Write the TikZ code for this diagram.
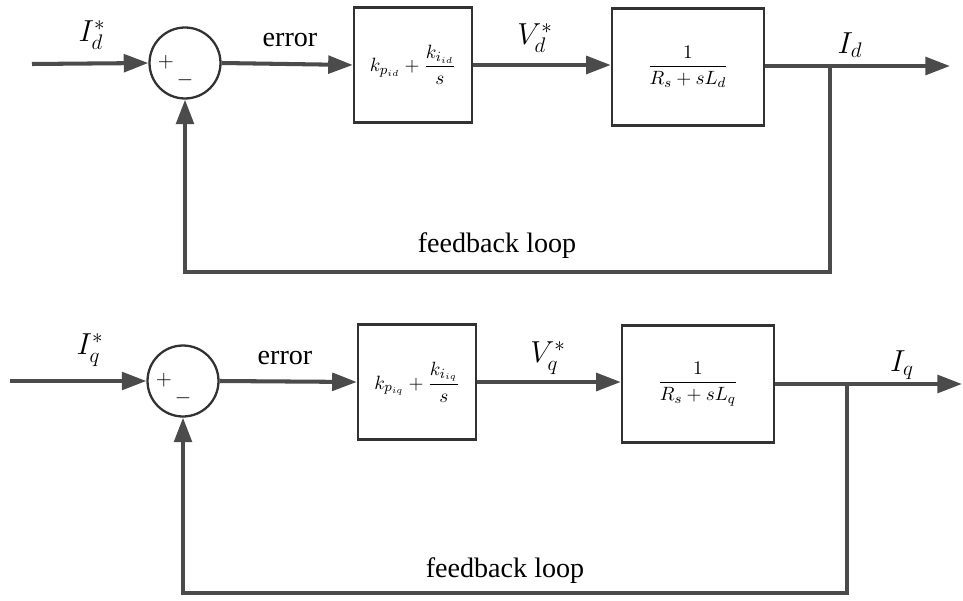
\documentclass[tikz,border=0pt]{standalone}
\usepackage{amsmath}
\usepackage{fontspec}
\setmainfont{Liberation Serif}
\newfontfamily\capfont{Liberation Serif}
\usetikzlibrary{arrows.meta,positioning}
\definecolor{cLine}{RGB}{75,75,75}
\definecolor{cEdge}{RGB}{50,50,50}
\tikzset{
  blockbox/.style={rectangle,draw=cEdge,line width=1.4pt,fill=white,
                   align=center,font=\fontsize{11}{13}\selectfont},
  pibox/.style={blockbox,minimum width=2.36cm,minimum height=2.3cm},
  plantbox/.style={blockbox,minimum width=3.04cm,minimum height=2.34cm},
  sumnode/.style={circle,draw=cEdge,line width=1.3pt,minimum size=1.42cm,inner sep=0pt},
  sig/.style={-{Triangle[length=14pt,width=10pt]},line width=2.3pt,color=cLine},
  lbl/.style={font=\fontsize{17}{20}\selectfont},
  txt/.style={font=\capfont\fontsize{16}{19}\selectfont},
  sgn/.style={font=\fontsize{12}{14}\selectfont}
}
\begin{document}
\begin{tikzpicture}[x=0.02cm,y=-0.02cm]
  \useasboundingbox (0,0) rectangle (963,601);

  % d-axis current loop
  \coordinate (ind) at (32,64);
  \node[sumnode] (sumd) at (185,63) {};
  \node[sgn] (plusd) at (166,62) {$+$};
  \node[sgn] (minusd) at (185,80) {$-$};
  \node[pibox] (pid) at (413,65) {$k_{p_{id}}+\dfrac{k_{i_{id}}}{s}$};
  \node[plantbox] (plantd) at (688,67) {$\dfrac{1}{R_s+sL_d}$};
  \coordinate (brd) at (830,66);
  \coordinate (outd) at (950,66);
  \coordinate (fbd) at (830,272);

  \node[lbl] (refd) at (92,35) {$I_d^*$};
  \node[txt] (errd) at (290,40) {error};
  \node[lbl] (vd) at (535,38) {$V_d^*$};
  \node[lbl] (id) at (850,45) {$I_d$};
  \node[txt] (fbtxtd) at (497,246) {feedback loop};

  \draw[sig] (ind) -- (sumd.west);
  \draw[sig] (sumd.east) -- (pid.west);
  \draw[sig] (pid.east) -- (plantd.west |- pid.east);
  \draw[sig] (plantd.east |- brd) -- (outd);
  \draw[sig] (brd) -- (fbd) -| (sumd.south);

  % q-axis current loop
  \coordinate (inq) at (10,381);
  \node[sumnode] (sumq) at (183,381) {};
  \node[sgn] (plusq) at (164,380) {$+$};
  \node[sgn] (minusq) at (183,398) {$-$};
  \node[pibox] (piq) at (417,382) {$k_{p_{iq}}+\dfrac{k_{i_{iq}}}{s}$};
  \node[plantbox] (plantq) at (698,384) {$\dfrac{1}{R_s+sL_q}$};
  \coordinate (brq) at (847,384);
  \coordinate (outq) at (962,384);
  \coordinate (fbq) at (847,593);

  \node[lbl] (refq) at (90,350) {$I_q^*$};
  \node[txt] (errq) at (285,358) {error};
  \node[lbl] (vq) at (548,358) {$V_q^*$};
  \node[lbl] (iq) at (902,365) {$I_q$};
  \node[txt] (fbtxtq) at (505,571) {feedback loop};

  \draw[sig] (inq) -- (sumq.west);
  \draw[sig] (sumq.east) -- (piq.west);
  \draw[sig] (piq.east) -- (plantq.west |- piq.east);
  \draw[sig] (plantq.east |- brq) -- (outq);
  \draw[sig] (brq) -- (fbq) -| (sumq.south);

\end{tikzpicture}
\end{document}
